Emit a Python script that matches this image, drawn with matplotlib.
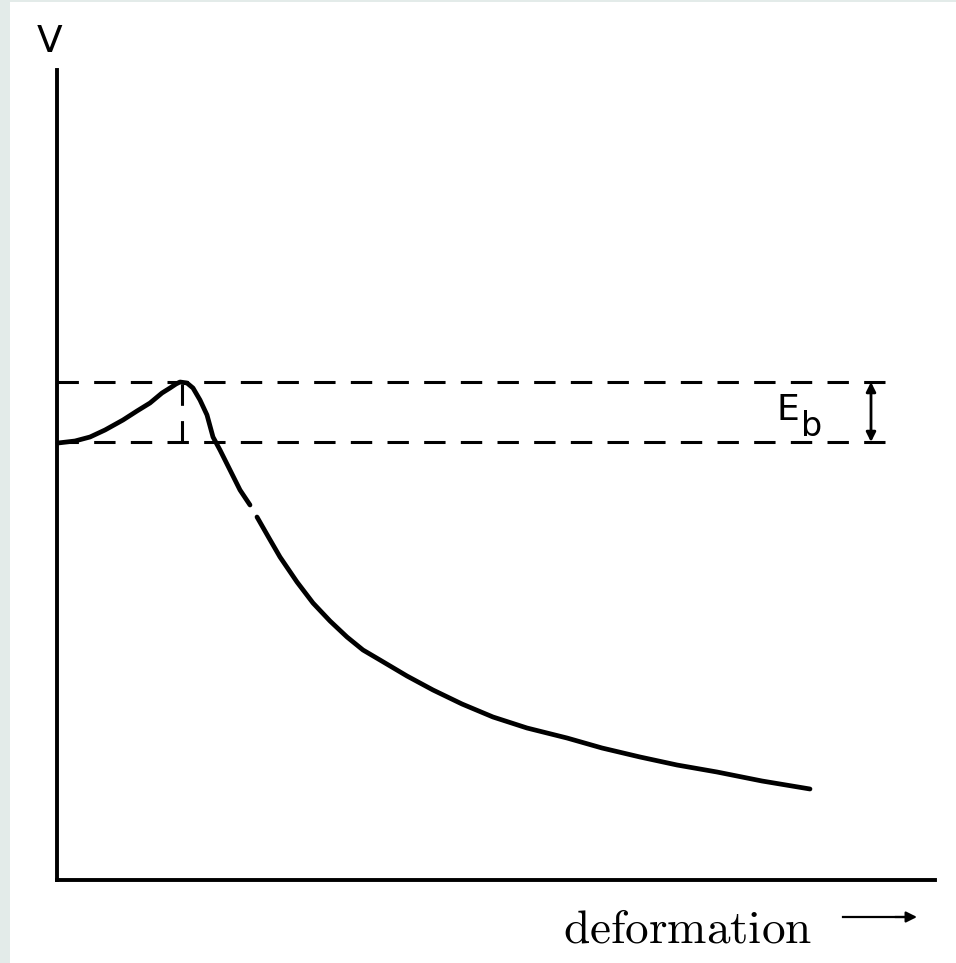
import matplotlib.pyplot as plt
from matplotlib.patches import Rectangle

# curve (arbitrary units: deformation, potential V)
deformation = [1, 18, 33, 48, 66, 80, 93, 105, 113, 119, 123, 130, 136, 143, 150,
               156, 163, 173, 183, 193,
               200, 212, 223, 240, 256, 273, 290, 306, 323, 350, 376, 405, 436,
               470, 510, 545, 583, 620, 660, 705, 753]
potential = [437, 439, 443, 450, 460, 469, 477, 487, 492, 496, 498, 497, 492, 480, 465,
             443, 430, 410, 390, 375,
             363, 342, 323, 298, 277, 259, 243, 230, 220, 204, 190, 176, 163,
             152, 142, 132, 123, 115, 108, 99, 91]
gap_at = 20  # small break in the printed line

v_ground = 438   # lower dashed level
v_barrier = 498  # upper dashed level (top of barrier)
x_peak = 125
x_lines_end = 828
x_eb_arrow = 814

W, H = 956, 963
fig = plt.figure(figsize=(W / 100, H / 100), dpi=100, facecolor='#e3ebe9')
fig.patches.append(Rectangle((10 / W, 0), 1, 1 - 2 / H, transform=fig.transFigure,
                             facecolor='white', edgecolor='none', zorder=-5))

ax = fig.add_axes([57 / W, (H - 880) / H, 878 / W, 810 / H])
ax.set_xlim(0, 878)
ax.set_ylim(0, 810)
ax.patch.set_alpha(0)
for side in ['top', 'right']:
    ax.spines[side].set_visible(False)
for side in ['left', 'bottom']:
    ax.spines[side].set_linewidth(2.8)
ax.set_xticks([])
ax.set_yticks([])

# potential curve
ax.plot(deformation[:gap_at], potential[:gap_at], color='black', lw=3.4,
        solid_capstyle='round', solid_joinstyle='round', clip_on=False)
ax.plot(deformation[gap_at:], potential[gap_at:], color='black', lw=3.4,
        solid_capstyle='round', solid_joinstyle='round', clip_on=False)

# dashed reference levels
dash = dict(color='black', lw=2.2, dashes=(7, 5))
ax.plot([0, x_lines_end], [v_barrier, v_barrier], **dash)
ax.plot([0, x_lines_end], [v_ground, v_ground], **dash)
ax.plot([x_peak, x_peak], [v_ground, v_barrier], **dash)

# barrier height marker
ax.annotate('', xy=(x_eb_arrow, v_barrier), xytext=(x_eb_arrow, v_ground),
            arrowprops=dict(arrowstyle='<|-|>', color='black', lw=2,
                            mutation_scale=14, shrinkA=0, shrinkB=0))
ax.text(720, 460, 'E', fontsize=26, color='black',
        ha='left', va='baseline', family='DejaVu Sans')
ax.text(744, 444, 'b', fontsize=24, color='black',
        ha='left', va='baseline', family='DejaVu Sans')

# axis labels
fig.text(37 / W, 1 - 52 / H, 'V', fontsize=27, ha='left',
         va='baseline', family='DejaVu Sans')
plt.rcParams['mathtext.fontset'] = 'cm'
fig.text(563 / W, 1 - 942 / H, r'$\mathrm{deformation}$', fontsize=34,
         ha='left', va='baseline')
fig.add_artist(plt.Line2D([843 / W, 905 / W], [1 - 917 / H, 1 - 917 / H],
                          color='black', lw=1.6))
ax.annotate('', xy=(917 / W, 1 - 917 / H), xytext=(895 / W, 1 - 917 / H),
            xycoords='figure fraction', textcoords='figure fraction',
            annotation_clip=False,
            arrowprops=dict(arrowstyle='-|>', color='black', lw=1.6,
                            mutation_scale=16, shrinkA=0, shrinkB=0))

fig.savefig('out.png', dpi=100, facecolor=fig.get_facecolor())
